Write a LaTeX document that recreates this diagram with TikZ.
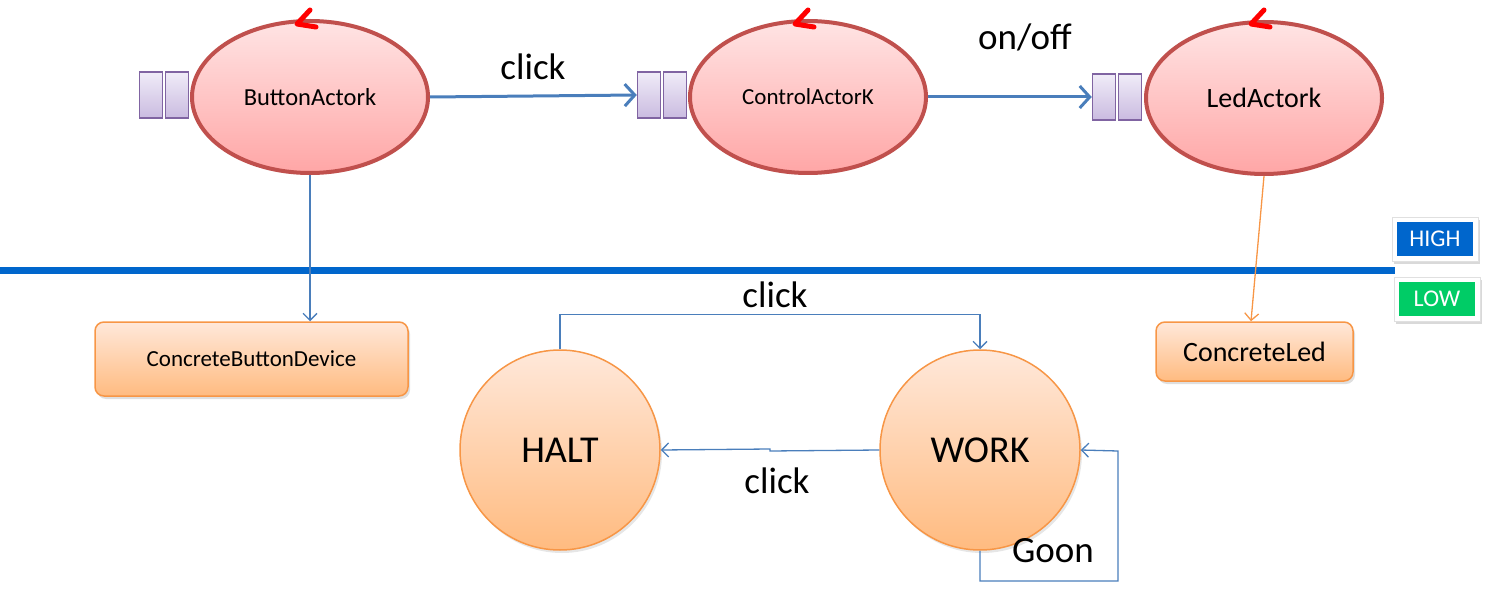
\documentclass[tikz,border=0pt]{standalone}
\usepackage{fontspec}
\setmainfont{Carlito}
\usetikzlibrary{arrows.meta,shadows,shapes.geometric}
\definecolor{actborder}{HTML}{C0504D}
\definecolor{acttop}{HTML}{FFE4E4}
\definecolor{actbot}{HTML}{FFA6A6}
\definecolor{qborder}{HTML}{8064A2}
\definecolor{qtop}{HTML}{F0ECF8}
\definecolor{qbot}{HTML}{CABBE0}
\definecolor{lnblue}{HTML}{4A7EBB}
\definecolor{barblue}{HTML}{0066CC}
\definecolor{orborder}{HTML}{F79646}
\definecolor{ortop}{HTML}{FFE8DA}
\definecolor{orbot}{HTML}{FFBB80}
\definecolor{lowgreen}{HTML}{00CC66}
\tikzset{
  actor/.style={ellipse, draw=actborder, line width=4pt, top color=acttop, bottom color=actbot,
    minimum width=236pt, minimum height=152pt, inner sep=0pt, font=\fontsize{23}{25}\selectfont},
  qbox/.style={rectangle, draw=qborder, line width=1.5pt, top color=qtop, bottom color=qbot,
    minimum width=23pt, minimum height=46pt, inner sep=0pt},
  mainarrow/.style={draw=lnblue, line width=3pt, -{Straight Barb[length=10pt,width=22pt,line width=3pt]}},
  thinarrow/.style={draw=lnblue, line width=1.3pt, -{Straight Barb[length=7pt,width=14pt,line width=1.3pt]}},
  device/.style={rectangle, rounded corners=9pt, draw=orborder, line width=1.5pt, top color=ortop, bottom color=orbot,
    drop shadow={shadow xshift=2pt, shadow yshift=-3pt, opacity=0.25}, font=\fontsize{23}{25}\selectfont},
  state/.style={circle, draw=orborder, line width=1.5pt, top color=ortop, bottom color=orbot,
    minimum size=200pt, inner sep=0pt, drop shadow={shadow xshift=2pt, shadow yshift=-3pt, opacity=0.2},
    font=\fontsize{38}{40}\selectfont},
  lbl/.style={font=\fontsize{37}{40}\selectfont, inner sep=0pt},
  marker/.style={draw=red, line width=5pt, line cap=round, line join=round},
  tagframe/.style={rectangle, fill=white, draw=black!12, line width=0.8pt, minimum width=86pt, minimum height=44pt,
    drop shadow={shadow xshift=2pt, shadow yshift=-3pt, opacity=0.3}},
  tag/.style={rectangle, fill=#1, text=white, minimum width=76pt, minimum height=34pt, inner sep=0pt,
    font=\fontsize{24}{26}\selectfont},
}
\begin{document}
\begin{tikzpicture}[x=1pt,y=-1pt]
\useasboundingbox (0,0) rectangle (1488,596);
% actors
\node[actor, font=\fontsize{24.5}{26}\selectfont] (ba) at (310,97) {ButtonActork};
\node[actor] (ca) at (808,97) {ControlActorK};
\node[actor, font=\fontsize{28}{30}\selectfont] (la) at (1264,98) {LedActork};
% queues
\node[qbox] (bq1) at (151,95) {};
\node[qbox] (bq2) at (177,95) {};
\node[qbox] (cq1) at (649,95) {};
\node[qbox] (cq2) at (675,95) {};
\node[qbox] (lq1) at (1104,97) {};
\node[qbox] (lq2) at (1130,97) {};
% red markers
\draw[marker] (310,10) -- (297,24) -- (316,27);
\draw[marker] (808,10) -- (795,24) -- (814,27);
\draw[marker] (1264,10) -- (1251,24) -- (1270,27);
% main arrows
\draw[mainarrow] (ba.east) -- (cq1.west);
\draw[mainarrow] (ca.east) -- (lq1.west);
\node[lbl] (lclick1) at (533,67) {click};
\node[lbl] (lonoff) at (1025,37) {on/off};
% level bar
\coordinate (barL) at (0,270); \coordinate (barR) at (1395,270);
\draw[barblue, line width=7pt] (barL) -- (barR);
\node[tagframe] (highf) at (1435,239) {};
\node[tag=barblue] (high) at (1435,239) {HIGH};
\node[tagframe] (lowf) at (1437,299) {};
\node[tag=lowgreen] (low) at (1437,299) {LOW};
% devices
\node[device, minimum width=313pt, minimum height=74pt] (cbd) at (251.5,359) {ConcreteButtonDevice};
\node[device, minimum width=197pt, minimum height=59pt, font=\fontsize{28}{30}\selectfont] (cled) at (1254.5,351.5) {ConcreteLed};
\draw[thinarrow] (ba.south) -- (cbd.north -| ba.south);
\coordinate (ltx) at (1251,0);
\draw[draw=orborder, line width=1.3pt, -{Straight Barb[length=7pt,width=14pt,line width=1.3pt]}] (la.south) -- (cled.north -| ltx);
% states
\node[state] (halt) at (560,450) {HALT};
\node[state] (work) at (980,450) {WORK};
\draw[thinarrow] (halt.north) -- ++(0,-35) -| (work.north);
\node[lbl] (lclick2) at (775,295) {click};
\coordinate (j1) at (770,451); \coordinate (j2) at (770,449);
\draw[thinarrow] (work.west) -- (j1) -- (j2) -- (halt.east);
\node[lbl] (lclick3) at (777,481) {click};
\coordinate (g1) at (980,581); \coordinate (g2) at (1118,581); \coordinate (g3) at (1118,451);
\draw[thinarrow] (work.south) -- (g1) -- (g2) -- (g3) -- (work.east);
\node[lbl] (lgoon) at (1053,551) {Goon};
\end{tikzpicture}
\end{document}
